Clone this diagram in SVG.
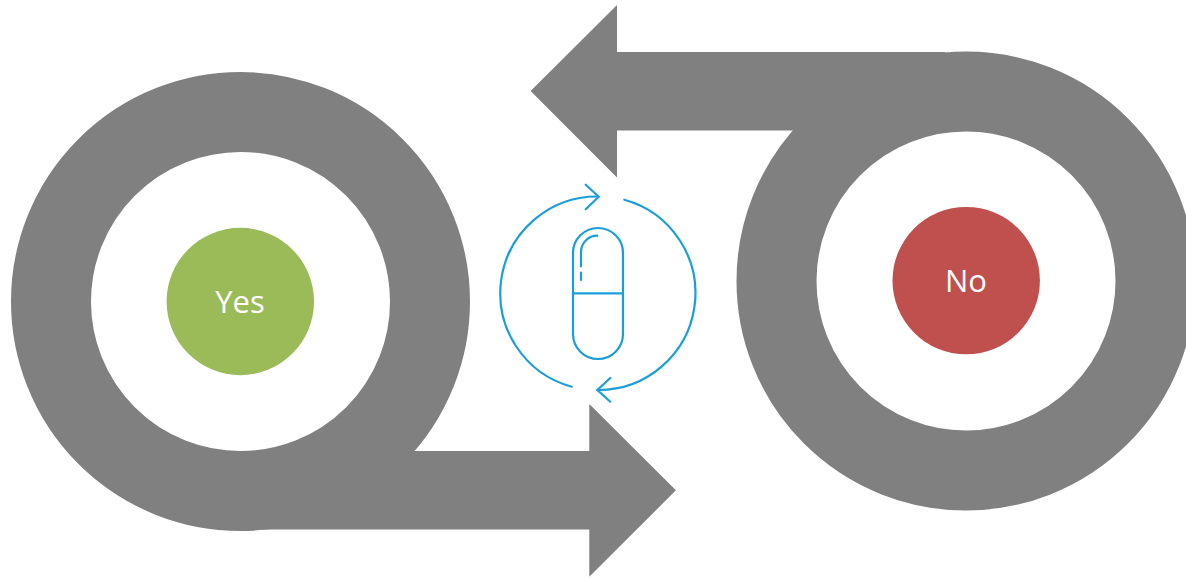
<svg xmlns="http://www.w3.org/2000/svg" width="1186" height="578" viewBox="0 0 1186 578">
  <style>
    .ring { fill: none; stroke: #808080; stroke-width: 80; }
    .arrow { fill: #808080; }
    .label { fill: #ffffff; font-family: "Open Sans", "Noto Sans", sans-serif; font-size: 31px; text-anchor: middle; }
    .icon { fill: none; stroke: #1b9ddb; stroke-width: 2.2; stroke-linecap: round; stroke-linejoin: round; }
  </style>
  <rect width="1186" height="578" fill="#ffffff"/>
  <g id="connectors">
    <g id="loop-yes">
      <circle class="ring" cx="240.5" cy="301.5" r="189.5"/>
      <polygon class="arrow" points="240.5,451 589.3,451 589.3,404 675.9,490.3 589.3,576.7 589.3,529.6 262,529.6"/>
    </g>
    <g id="loop-no">
      <circle class="ring" cx="966" cy="281" r="189.5"/>
      <polygon class="arrow" points="945,52 617,52 617,5 530.6,91 617,177.5 617,130.6 966,130.6"/>
    </g>
  </g>
  <g id="node-yes">
    <circle cx="240.3" cy="301.5" r="73.7" fill="#9bbb59"/>
    <text class="label" x="240" y="312.5">Yes</text>
  </g>
  <g id="node-no">
    <circle cx="966.2" cy="280.6" r="73.7" fill="#c0504d"/>
    <text class="label" x="966" y="292">No</text>
  </g>
  <g id="icon-capsule">
    <path class="icon" d="M571.7 386.7A96.8 96.8 0 0 1 598.7 196.5"/>
    <path class="icon" d="M585.7 184.7L598.7 196.7L585.7 209.3"/>
    <path class="icon" d="M624.3 199.7A96.9 96.9 0 0 1 597.3 390"/>
    <path class="icon" d="M610.3 378L597.3 390L610.3 401.7"/>
    <rect class="icon" x="573" y="228" width="50" height="131" rx="25" ry="25"/>
    <path class="icon" d="M573 293.3H623"/>
    <path class="icon" d="M597.3 235.7A16.3 16.3 0 0 0 581 252V266.3M581 272.5V280"/>
  </g>
</svg>
